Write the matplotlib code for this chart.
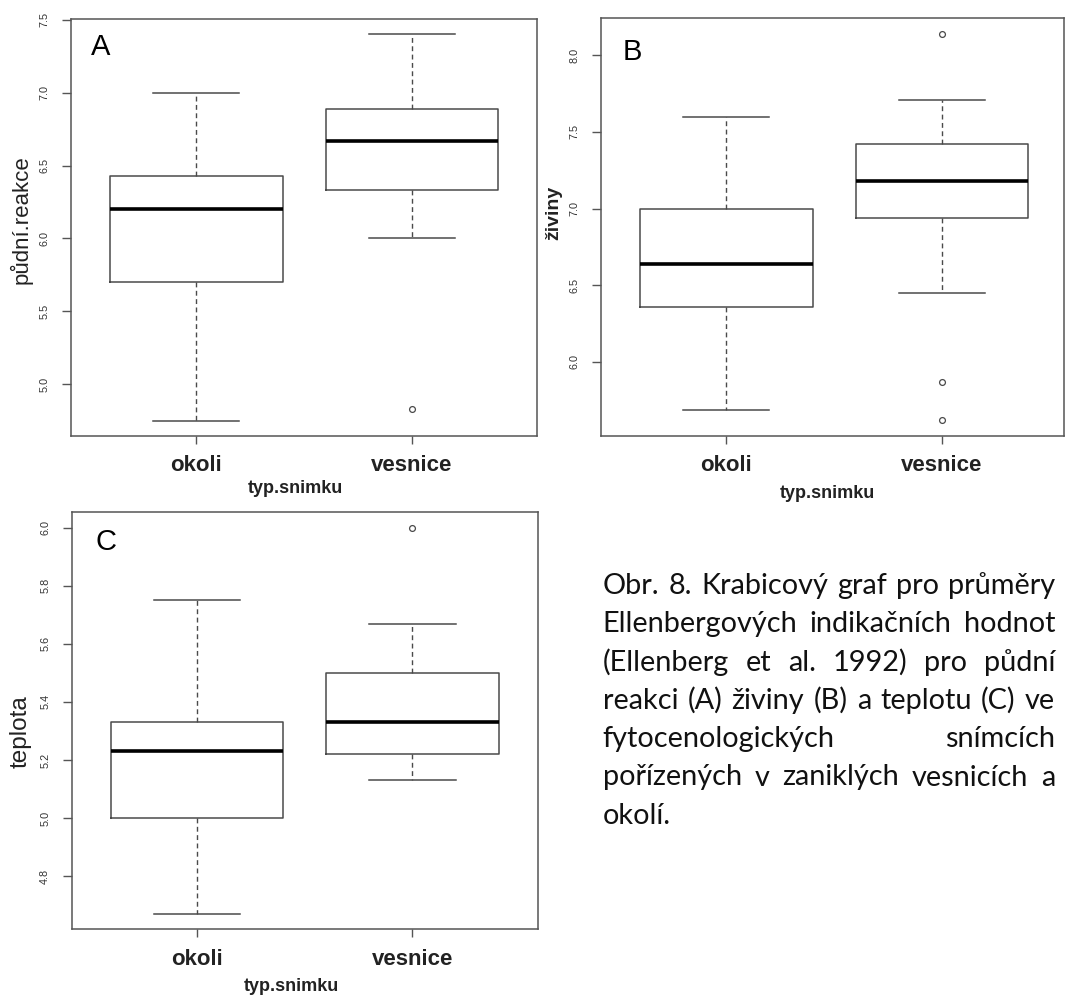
import matplotlib
matplotlib.use("Agg")
import matplotlib.pyplot as plt

W, H = 1065, 999

groups = ["okoli", "vesnice"]

# půdní reakce (A)
reakce_lo = [4.75, 6.00]
reakce_q1 = [5.70, 6.33]
reakce_med = [6.20, 6.67]
reakce_q3 = [6.43, 6.89]
reakce_hi = [7.00, 7.40]
reakce_out = [[], [4.83]]
reakce_ticks = [5.0, 5.5, 6.0, 6.5, 7.0, 7.5]

# živiny (B)
ziviny_lo = [5.69, 6.45]
ziviny_q1 = [6.36, 6.94]
ziviny_med = [6.64, 7.18]
ziviny_q3 = [7.00, 7.42]
ziviny_hi = [7.60, 7.71]
ziviny_out = [[], [8.14, 5.87, 5.62]]
ziviny_ticks = [6.0, 6.5, 7.0, 7.5, 8.0]

# teplota (C)
teplota_lo = [4.67, 5.13]
teplota_q1 = [5.00, 5.22]
teplota_med = [5.23, 5.33]
teplota_q3 = [5.33, 5.50]
teplota_hi = [5.75, 5.67]
teplota_out = [[], [6.00]]
teplota_ticks = [4.8, 5.0, 5.2, 5.4, 5.6, 5.8, 6.0]

caption_lines = [
    "Obr. 8. Krabicový graf pro průměry",
    "Ellenbergových indikačních hodnot",
    "(Ellenberg et al. 1992) pro půdní",
    "reakci (A) živiny (B) a teplotu (C) ve",
    "fytocenologických snímcích",
    "pořízených v zaniklých vesnicích a",
    "okolí.",
]

plt.rcParams["font.family"] = ["Liberation Sans", "DejaVu Sans"]

GREY = "#4a4a4a"


def px_axes(fig, left, top, right, bottom):
    return fig.add_axes([left / W, 1 - bottom / H, (right - left) / W, (bottom - top) / H])


def make_stats(lo, q1, med, q3, hi, out):
    stats = []
    for i, name in enumerate(groups):
        stats.append(dict(label=name, whislo=lo[i], q1=q1[i], med=med[i],
                          q3=q3[i], whishi=hi[i], fliers=out[i]))
    return stats


def r_boxplot(ax, stats, ticks, xlim, ylabel, letter, ylabel_pos, xlabel_pos, letter_pos,
              ylabel_size=15, ylabel_weight="normal"):
    ax.bxp(stats, positions=[1, 2], widths=0.8, capwidths=0.4,
           boxprops=dict(color=GREY, linewidth=1.1),
           medianprops=dict(color="black", linewidth=2.6, solid_capstyle="butt"),
           whiskerprops=dict(color=GREY, linewidth=1.0, linestyle=(0, (3.5, 2.5))),
           capprops=dict(color=GREY, linewidth=1.1),
           flierprops=dict(marker="o", markersize=4.2, markerfacecolor="none",
                           markeredgecolor=GREY, markeredgewidth=0.9))
    # R-style limits: data range widened by 4 %
    vals = []
    for s in stats:
        vals += [s["whislo"], s["whishi"]] + list(s["fliers"])
    lo, hi = min(vals), max(vals)
    pad = 0.04 * (hi - lo)
    ax.set_ylim(lo - pad, hi + pad)
    ax.set_xlim(*xlim)
    ax.set_xticks([1, 2], groups)
    ax.set_yticks(ticks, [f"{t:.1f}" for t in ticks])
    for sp in ax.spines.values():
        sp.set_color("#555555")
        sp.set_linewidth(1.1)
    ax.tick_params(axis="y", length=6.5, width=1, color="#555555", labelrotation=90,
                   labelsize=7.8, labelcolor="#333333", pad=9)
    ax.tick_params(axis="x", length=6, width=1, color="#555555", labelsize=16,
                   labelcolor="#222222", pad=8)
    for lab in ax.get_xticklabels():
        lab.set_fontweight("bold")
    for lab in ax.get_yticklabels():
        lab.set_va("center")
    ax.set_ylabel(ylabel, fontsize=ylabel_size, fontweight=ylabel_weight, color="#222222")
    ax.yaxis.set_label_coords(*ylabel_pos)
    ax.set_xlabel("typ.snimku", fontsize=13, fontweight="bold", color="#222222")
    ax.xaxis.set_label_coords(*xlabel_pos)
    ax.text(*letter_pos, letter, transform=ax.transAxes, fontsize=21,
            ha="left", va="top", color="black")


fig = plt.figure(figsize=(W / 100, H / 100), dpi=100)

ax_a = px_axes(fig, 71, 19, 537.3, 436)
r_boxplot(ax_a, make_stats(reakce_lo, reakce_q1, reakce_med, reakce_q3, reakce_hi, reakce_out),
          reakce_ticks, (0.419, 2.581), "půdní.reakce", "A",
          (-0.082, 0.52), (0.481, -0.105), (0.042, 0.966), ylabel_size=16)

ax_b = px_axes(fig, 600.7, 18.3, 1064, 435.7)
r_boxplot(ax_b, make_stats(ziviny_lo, ziviny_q1, ziviny_med, ziviny_q3, ziviny_hi, ziviny_out),
          ziviny_ticks, (0.418, 2.566), "živiny", "B",
          (-0.083, 0.534), (0.49, -0.118), (0.047, 0.953), ylabel_size=14, ylabel_weight="bold")

ax_c = px_axes(fig, 71.7, 512.3, 537.7, 929.3)
r_boxplot(ax_c, make_stats(teplota_lo, teplota_q1, teplota_med, teplota_q3, teplota_hi, teplota_out),
          teplota_ticks, (0.419, 2.581), "teplota", "C",
          (-0.086, 0.474), (0.472, -0.117), (0.05, 0.962), ylabel_size=17.5)

# justified caption block
cap_left, cap_right = 602.7, 1055
cap_base, cap_step = 594, 38.3
renderer = fig.canvas.get_renderer()

# size the caption font so the widest line just fills the column
probe = [fig.text(0, 0, line, family=["Lato", "DejaVu Sans"], fontsize=10)
         for line in caption_lines[:-1]]
widest = max(p.get_window_extent(renderer).width for p in probe)
for p in probe:
    p.remove()
cap_size = 10 * (cap_right - cap_left) / widest * 0.985
cap_font = dict(family=["Lato", "DejaVu Sans"], fontsize=cap_size, color="#111111")

for i, line in enumerate(caption_lines):
    y = 1 - (cap_base + i * cap_step) / H
    words = line.split()
    if i == len(caption_lines) - 1:
        fig.text(cap_left / W, y, line, va="baseline", ha="left", **cap_font)
        continue
    artists = [fig.text(0, y, w, va="baseline", ha="left", **cap_font) for w in words]
    widths = [a.get_window_extent(renderer).width for a in artists]
    gap = (cap_right - cap_left - sum(widths)) / (len(words) - 1)
    x = cap_left
    for a, w in zip(artists, widths):
        a.set_x(x / W)
        x += w + gap

fig.savefig("out.png", dpi=100, facecolor="white")
